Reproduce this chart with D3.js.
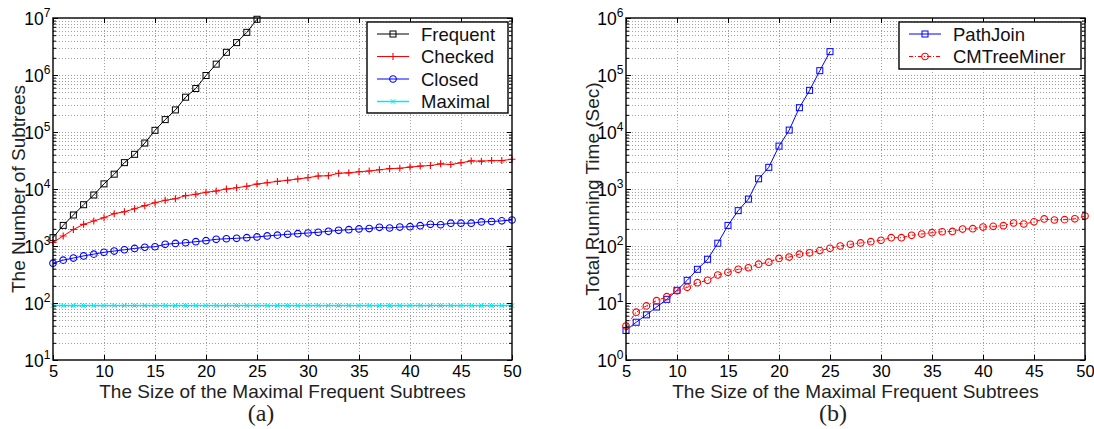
<!DOCTYPE html>
<html>
<head>
<meta charset="utf-8">
<script src="https://cdnjs.cloudflare.com/ajax/libs/d3/7.8.5/d3.min.js"></script>
<style>
  body { margin: 0; background: #fff; }
  svg { display: block; }
  .tick line { stroke: #000; }
</style>
</head>
<body>
<div id="chart"></div>
<script>
// sizes of the maximal frequent subtrees (x axis, both panels)
const sizes = [5, 6, 7, 8, 9, 10, 11, 12, 13, 14, 15, 16, 17, 18, 19, 20, 21, 22, 23, 24, 25,
  26, 27, 28, 29, 30, 31, 32, 33, 34, 35, 36, 37, 38, 39, 40, 41, 42, 43, 44, 45, 46, 47, 48, 49, 50];
const sizesShort = [5, 6, 7, 8, 9, 10, 11, 12, 13, 14, 15, 16, 17, 18, 19, 20, 21, 22, 23, 24, 25];
const xTicks = [5, 10, 15, 20, 25, 30, 35, 40, 45, 50];

// (a) number of subtrees
const frequent = [1400, 2300, 3500, 5300, 7850, 12300, 18200, 29000, 40600, 64000, 107000,
  165000, 244000, 408000, 580000, 980000, 1550000, 2500000, 3700000, 5600000, 9500000];
const checked = [1150, 1500, 1950, 2400, 2750, 3140, 3690, 4000, 4500, 5100, 5750, 6330, 6750,
  7640, 8080, 8750, 9220, 10000, 10500, 11200, 12200, 12900, 13600, 14200, 15000, 15800, 16900,
  17100, 18900, 19200, 20100, 20700, 21700, 22800, 23100, 24200, 25200, 25800, 27600, 26900,
  28800, 31100, 30800, 31500, 31500, 33300];
const closed = [500, 565, 615, 670, 720, 775, 815, 860, 905, 950, 970, 1070, 1110, 1140, 1190,
  1240, 1310, 1340, 1365, 1400, 1440, 1500, 1550, 1600, 1645, 1690, 1740, 1810, 1885, 1930, 1990,
  2020, 2130, 2070, 2150, 2180, 2270, 2400, 2360, 2510, 2510, 2510, 2640, 2690, 2760, 2860];
const maximal = [90, 90, 90, 90, 90, 90, 90, 90, 90, 90, 90, 90, 90, 90, 90, 90, 90, 90, 90, 90,
  90, 90, 90, 90, 90, 90, 90, 90, 90, 90, 90, 90, 90, 90, 90, 90, 90, 90, 90, 90, 90, 90, 90, 90,
  90, 90];

// (b) total running time in seconds
const pathJoin = [3.3, 4.6, 6.2, 8.5, 11.6, 16.7, 25, 39, 58.5, 112, 230, 417, 665, 1510, 2400,
  5660, 10800, 26700, 53800, 119000, 257000];
const cmTreeMiner = [3.95, 6.9, 8.9, 11, 12.9, 16.4, 18.8, 22.7, 25, 31, 34.5, 39, 41.5, 48, 52,
  60.5, 64, 72, 76, 83, 91, 100, 107, 113, 119, 126, 140, 140, 154, 162, 171, 178, 180, 198, 201,
  215, 221, 227, 253, 243, 265, 298, 286, 290, 300, 336];

const FONT = "'Liberation Sans', Arial, Helvetica, sans-serif";
const W = 1094, H = 429;

const svg = d3.select('#chart').append('svg')
  .attr('width', W)
  .attr('height', H)
  .style('font-family', FONT);

function drawMarker(g, type, color) {
  if (type === 'square') {
    g.append('rect').attr('x', -3).attr('y', -3).attr('width', 6).attr('height', 6)
      .attr('fill', 'none').attr('stroke', color).attr('stroke-width', 1);
  } else if (type === 'circle') {
    g.append('circle').attr('r', 3.3)
      .attr('fill', 'none').attr('stroke', color).attr('stroke-width', 1.1);
  } else if (type === 'plus') {
    g.append('path').attr('d', 'M-3.5,0H3.5M0,-3.5V3.5')
      .attr('stroke', color).attr('stroke-width', 1.1);
  } else if (type === 'x') {
    g.append('path').attr('d', 'M-2.3,-2.3L2.3,2.3M-2.3,2.3L2.3,-2.3')
      .attr('stroke', color).attr('stroke-width', 1);
  }
}

function makePanel(cfg) {
  const x = d3.scaleLinear().domain([5, 50]).range([cfg.left, cfg.right]);
  const y = d3.scaleLog().domain(cfg.yDomain).range([cfg.bottom, cfg.top]);

  const decades = d3.range(Math.log10(cfg.yDomain[0]), Math.log10(cfg.yDomain[1]) + 1)
    .map(e => Math.pow(10, e));
  const minors = [];
  decades.slice(0, -1).forEach(d => {
    for (let k = 2; k <= 9; k++) minors.push(d * k);
  });

  const g = svg.append('g');

  // grid
  const grid = g.append('g')
    .attr('stroke', '#a0a0a0')
    .attr('stroke-width', 1)
    .attr('stroke-dasharray', '1,2');
  grid.selectAll('line.h')
    .data(minors.concat(decades.slice(1, -1)))
    .enter().append('line')
    .attr('x1', cfg.left).attr('x2', cfg.right)
    .attr('y1', d => Math.round(y(d)) + 0.5).attr('y2', d => Math.round(y(d)) + 0.5);
  grid.selectAll('line.v')
    .data(xTicks.slice(1, -1))
    .enter().append('line')
    .attr('y1', cfg.top).attr('y2', cfg.bottom)
    .attr('x1', d => Math.round(x(d)) + 0.5).attr('x2', d => Math.round(x(d)) + 0.5);

  // series
  cfg.series.forEach(s => {
    const pts = s.xs.map((v, i) => [v, s.ys[i]]);
    g.append('path')
      .datum(pts)
      .attr('fill', 'none')
      .attr('stroke', s.color)
      .attr('stroke-width', s.width || 1)
      .attr('stroke-dasharray', s.dash || null)
      .attr('d', d3.line().x(d => x(d[0])).y(d => y(d[1])));
    g.selectAll(null)
      .data(pts)
      .enter().append('g')
      .attr('transform', d => 'translate(' + x(d[0]) + ',' + y(d[1]) + ')')
      .each(function() { drawMarker(d3.select(this), s.marker, s.color); });
  });

  // axes, ticks pointing inwards
  const xb = g.append('g')
    .attr('transform', 'translate(0,' + cfg.bottom + ')')
    .call(d3.axisBottom(x).tickValues(xTicks).tickSize(-5).tickSizeOuter(0).tickPadding(5)
      .tickFormat(d3.format('d')));
  xb.selectAll('text')
    .attr('font-size', 16.5)
    .attr('fill', '#000')
    .attr('font-family', FONT);

  g.append('g')
    .attr('transform', 'translate(0,' + cfg.top + ')')
    .call(d3.axisTop(x).tickValues(xTicks).tickSize(-5).tickSizeOuter(0).tickFormat(''));

  const yl = g.append('g')
    .attr('transform', 'translate(' + cfg.left + ',0)')
    .call(d3.axisLeft(y).tickValues(decades).tickSize(-5).tickSizeOuter(0).tickFormat(''));
  g.append('g')
    .attr('transform', 'translate(' + cfg.left + ',0)')
    .call(d3.axisLeft(y).tickValues(minors).tickSize(-3).tickSizeOuter(0).tickFormat(''));
  g.append('g')
    .attr('transform', 'translate(' + cfg.right + ',0)')
    .call(d3.axisRight(y).tickValues(decades).tickSize(-5).tickSizeOuter(0).tickFormat(''));
  g.append('g')
    .attr('transform', 'translate(' + cfg.right + ',0)')
    .call(d3.axisRight(y).tickValues(minors).tickSize(-3).tickSizeOuter(0).tickFormat(''));
  g.selectAll('.domain').remove();

  // 10^n tick labels
  const lab = yl.selectAll('.tick').append('text')
    .attr('x', -2.5)
    .attr('y', 6.5)
    .attr('text-anchor', 'end')
    .attr('fill', '#000')
    .attr('font-size', 17.5)
    .attr('font-family', FONT);
  lab.append('tspan').text('10');
  lab.append('tspan')
    .attr('dy', -8.5)
    .attr('font-size', 12)
    .text(d => Math.round(Math.log10(d)));

  // box
  g.append('rect')
    .attr('x', cfg.left).attr('y', cfg.top)
    .attr('width', cfg.right - cfg.left).attr('height', cfg.bottom - cfg.top)
    .attr('fill', 'none').attr('stroke', '#000').attr('stroke-width', 1.4);

  // axis labels
  g.append('text')
    .attr('x', (cfg.left + cfg.right) / 2)
    .attr('y', 398)
    .attr('text-anchor', 'middle')
    .attr('font-size', 19)
    .attr('fill', '#222')
    .text('The Size of the Maximal Frequent Subtrees');
  g.append('text')
    .attr('transform', 'translate(' + cfg.ylabelX + ',' + ((cfg.top + cfg.bottom) / 2) + ') rotate(-90)')
    .attr('text-anchor', 'middle')
    .attr('font-size', 19)
    .attr('fill', '#222')
    .text(cfg.ylabel);

  // caption
  g.append('text')
    .attr('x', cfg.captionX)
    .attr('y', 421)
    .attr('text-anchor', 'middle')
    .attr('font-family', "'Liberation Serif', 'DejaVu Serif', serif")
    .attr('font-size', 24)
    .attr('fill', '#222')
    .text(cfg.caption);

  // legend
  const lg = g.append('g');
  lg.append('rect')
    .attr('x', cfg.legend.x).attr('y', cfg.legend.y)
    .attr('width', cfg.legend.w).attr('height', cfg.legend.h)
    .attr('fill', '#fff').attr('stroke', '#000').attr('stroke-width', 1.4);
  cfg.series.forEach((s, i) => {
    const ry = cfg.legend.y + 12 + i * 22.5;
    const lx0 = cfg.legend.x + 10, lx1 = lx0 + 32;
    lg.append('line')
      .attr('x1', lx0).attr('x2', lx1).attr('y1', ry).attr('y2', ry)
      .attr('stroke', s.color).attr('stroke-width', s.width || 1)
      .attr('stroke-dasharray', s.dash || null);
    const m = lg.append('g').attr('transform', 'translate(' + (lx0 + 16) + ',' + ry + ')');
    drawMarker(m, s.marker, s.color);
    lg.append('text')
      .attr('x', lx1 + 12)
      .attr('y', ry + 6.5)
      .attr('font-size', 18.5)
      .attr('fill', '#111')
      .text(s.name);
  });
}

makePanel({
  left: 53, right: 512, top: 18, bottom: 360,
  yDomain: [1e1, 1e7],
  ylabel: 'The Number of Subtrees', ylabelX: 25,
  caption: '(a)', captionX: 261,
  legend: { x: 367, y: 22, w: 141, h: 91 },
  series: [
    { name: 'Frequent', xs: sizesShort, ys: frequent, color: '#000000', marker: 'square' },
    { name: 'Checked', xs: sizes, ys: checked, color: '#ff0000', marker: 'plus' },
    { name: 'Closed', xs: sizes, ys: closed, color: '#0000ff', marker: 'circle' },
    { name: 'Maximal', xs: sizes, ys: maximal, color: '#00e8f0', marker: 'x', width: 1.5 }
  ]
});

makePanel({
  left: 626, right: 1085, top: 18, bottom: 360,
  yDomain: [1e0, 1e6],
  ylabel: 'Total Running Time (Sec)', ylabelX: 599,
  caption: '(b)', captionX: 833,
  legend: { x: 899, y: 22, w: 182, h: 47 },
  series: [
    { name: 'PathJoin', xs: sizesShort, ys: pathJoin, color: '#0000ff', marker: 'square' },
    { name: 'CMTreeMiner', xs: sizes, ys: cmTreeMiner, color: '#ff0000', marker: 'circle', dash: '4,2,1,2' }
  ]
});
</script>
</body>
</html>
